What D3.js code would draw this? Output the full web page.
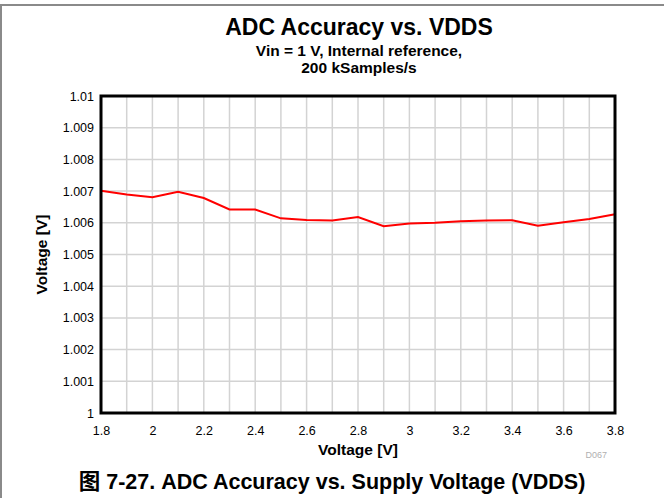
<!DOCTYPE html>
<html>
<head>
<meta charset="utf-8">
<script src="https://cdn.jsdelivr.net/npm/d3@7"></script>
<style>
  html, body { margin: 0; padding: 0; background: #fff; }
  svg { display: block; font-family: "Liberation Sans", Arial, sans-serif; }
</style>
</head>
<body>
<svg id="chart"></svg>
<script>
// supply voltage steps and measured ADC reading
const vdds = [1.8, 1.9, 2.0, 2.1, 2.2, 2.3, 2.4, 2.5, 2.6, 2.7, 2.8,
              2.9, 3.0, 3.1, 3.2, 3.3, 3.4, 3.5, 3.6, 3.7, 3.8];
const reading = [1.00701, 1.00689, 1.00681, 1.00698, 1.00678, 1.00642, 1.00642,
                 1.00614, 1.00609, 1.00607, 1.00618, 1.00589, 1.00598, 1.00600,
                 1.00605, 1.00607, 1.00608, 1.00591, 1.00602, 1.00612, 1.00627];
const xTicks = [1.8, 2, 2.2, 2.4, 2.6, 2.8, 3, 3.2, 3.4, 3.6, 3.8];
const xGrid = d3.range(0, 21).map(i => +(1.8 + i * 0.1).toFixed(1));
const yTicks = d3.range(0, 11).map(i => +(1 + i * 0.001).toFixed(3));

const width = 664, height = 498;
const margin = { top: 96, right: 49, bottom: 85, left: 101 };

const svg = d3.select('#chart')
  .attr('width', width)
  .attr('height', height);

// outer frame (top + left edges only)
svg.append('line')
  .attr('x1', 0).attr('x2', width).attr('y1', 5).attr('y2', 5)
  .attr('stroke', '#8a8a8a').attr('stroke-width', 2);
svg.append('line')
  .attr('x1', 1).attr('x2', 1).attr('y1', 5).attr('y2', height)
  .attr('stroke', '#8a8a8a').attr('stroke-width', 2);

const x = d3.scaleLinear()
  .domain([1.8, 3.8])
  .range([margin.left, width - margin.right]);

const y = d3.scaleLinear()
  .domain([1, 1.01])
  .range([height - margin.bottom, margin.top]);

// grid
svg.append('g')
  .selectAll('line')
  .data(xGrid)
  .join('line')
  .attr('x1', d => x(d)).attr('x2', d => x(d))
  .attr('y1', y(1)).attr('y2', y(1.01))
  .attr('stroke', '#d3d3d3').attr('stroke-width', 1.5);

svg.append('g')
  .selectAll('line')
  .data(yTicks)
  .join('line')
  .attr('x1', x(1.8)).attr('x2', x(3.8))
  .attr('y1', d => y(d)).attr('y2', d => y(d))
  .attr('stroke', '#d3d3d3').attr('stroke-width', 1.5);

// axes (labels only)
const xAxis = d3.axisBottom(x)
  .tickValues(xTicks)
  .tickSize(0)
  .tickPadding(13)
  .tickFormat(d3.format('~g'));

const yAxis = d3.axisLeft(y)
  .tickValues(yTicks)
  .tickSize(0)
  .tickPadding(7)
  .tickFormat(d3.format('~g'));

const gx = svg.append('g')
  .attr('transform', `translate(0, ${height - margin.bottom})`)
  .call(xAxis);
const gy = svg.append('g')
  .attr('transform', `translate(${margin.left}, 0)`)
  .call(yAxis);

[gx, gy].forEach(g => {
  g.select('.domain').remove();
  g.selectAll('text')
    .attr('font-size', 12.5)
    .attr('font-family', '"Liberation Sans", Arial, sans-serif')
    .attr('fill', '#000');
});

// data line
const line = d3.line()
  .x((d, i) => x(vdds[i]))
  .y(d => y(d));

svg.append('path')
  .datum(reading)
  .attr('d', line)
  .attr('fill', 'none')
  .attr('stroke', '#ff0000')
  .attr('stroke-width', 2);

// plot frame
svg.append('rect')
  .attr('x', x(1.8)).attr('y', y(1.01))
  .attr('width', x(3.8) - x(1.8))
  .attr('height', y(1) - y(1.01))
  .attr('fill', 'none')
  .attr('stroke', '#000')
  .attr('stroke-width', 3);

// titles
svg.append('text')
  .attr('x', 359).attr('y', 35)
  .attr('text-anchor', 'middle')
  .attr('font-size', 23).attr('font-weight', 'bold')
  .text('ADC Accuracy vs. VDDS');

svg.append('text')
  .attr('x', 359).attr('y', 56)
  .attr('text-anchor', 'middle')
  .attr('font-size', 15.5).attr('font-weight', 'bold')
  .text('Vin = 1 V, Internal reference,');

svg.append('text')
  .attr('x', 359).attr('y', 73)
  .attr('text-anchor', 'middle')
  .attr('font-size', 15.5).attr('font-weight', 'bold')
  .text('200 kSamples/s');

svg.append('text')
  .attr('x', 358).attr('y', 455)
  .attr('text-anchor', 'middle')
  .attr('font-size', 15.5).attr('font-weight', 'bold')
  .text('Voltage [V]');

svg.append('text')
  .attr('transform', `translate(47, ${(y(1) + y(1.01)) / 2}) rotate(-90)`)
  .attr('text-anchor', 'middle')
  .attr('font-size', 15.5).attr('font-weight', 'bold')
  .text('Voltage [V]');

svg.append('text')
  .attr('x', 607).attr('y', 458)
  .attr('text-anchor', 'end')
  .attr('font-size', 9)
  .attr('fill', '#b0b0b0')
  .text('D067');

// figure caption
svg.append('text')
  .attr('x', 332).attr('y', 489)
  .attr('text-anchor', 'middle')
  .attr('font-size', 21.5).attr('font-weight', 'bold')
  .attr('font-family', '"Liberation Sans", "Noto Sans CJK SC", sans-serif')
  .text('图 7-27. ADC Accuracy vs. Supply Voltage (VDDS)');
</script>
</body>
</html>
